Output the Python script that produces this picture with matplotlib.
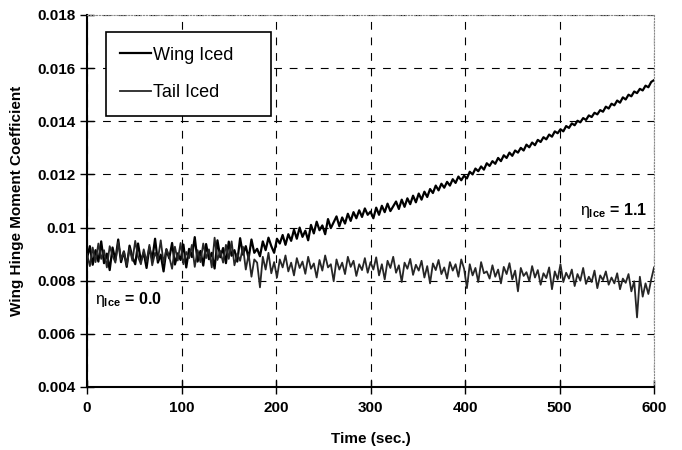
import numpy as np
import matplotlib
matplotlib.use("Agg")
import matplotlib.pyplot as plt

plt.rcParams["font.family"] = ["Liberation Sans", "DejaVu Sans"]
plt.rcParams["mathtext.fontset"] = "custom"
plt.rcParams["mathtext.rm"] = "Liberation Sans"
plt.rcParams["mathtext.it"] = "Liberation Sans"
plt.rcParams["mathtext.bf"] = "Liberation Sans:bold"

# sample time (sec.), one reading every 3 s
time_s = np.arange(0, 601, 3)

# hinge moment coefficient, in units of 1e-5
wing_iced_e5 = [
    885, 930, 860, 915, 872, 948, 866, 902, 840, 925, 878, 955, 870, 910, 852, 932, 889, 862, 940, 875,
    905, 848, 926, 880, 958, 868, 898, 835, 917, 884, 942, 861, 903, 878, 936, 850, 920, 889, 964, 872,
    912, 857, 938, 881, 905, 846, 952, 888, 923, 866, 947, 894, 915, 872, 960, 898, 930, 884, 955, 905,
    920, 892, 948, 915, 962, 930, 905, 958, 940, 972, 935, 975, 950, 992, 958, 1000, 965, 988, 952, 1010,
    978, 1022, 990, 1008, 975, 1032, 998, 1020, 1042, 1005, 1038, 1015, 1052, 1025, 1058, 1035, 1065, 1040, 1072, 1048,
    1060, 1035, 1075, 1048, 1082, 1058, 1090, 1062, 1080, 1098, 1070, 1105, 1078, 1110, 1088, 1120, 1095, 1128, 1105, 1135,
    1115, 1145, 1130, 1158, 1140, 1165, 1150, 1172, 1158, 1182, 1168, 1192, 1178,
    1195, 1185, 1210, 1200, 1222, 1212, 1230, 1218, 1242, 1232, 1250, 1240, 1262, 1250, 1272, 1262, 1282, 1270, 1290, 1282,
    1300, 1290, 1312, 1302, 1320, 1310, 1330, 1322, 1340, 1332, 1350, 1342, 1362, 1355,
    1370, 1362, 1382, 1375, 1392, 1385, 1402, 1396, 1412, 1405, 1422, 1416, 1432, 1426, 1442, 1436, 1455, 1448, 1466, 1460,
    1478, 1470, 1490, 1482, 1500, 1494, 1512, 1506, 1522, 1516, 1534, 1528, 1548, 1555,
]
tail_iced_e5 = [
    900, 855, 925, 870, 940, 882, 915, 850, 930, 895, 868, 945, 880, 910, 858, 922, 875, 950, 890, 862,
    918, 872, 935, 858, 905, 880, 952, 866, 920, 890, 845, 928, 876, 942, 862, 908, 885, 935, 852, 915,
    870, 940, 885, 918, 850, 962, 878, 912, 868, 935, 882, 948, 858, 902, 875, 928, 842, 900, 815, 880,
    868, 775, 890, 842, 905, 828, 870, 812, 880, 850, 895, 835, 868, 820, 885, 848, 872, 826, 890, 845,
    865, 812, 878, 838, 895, 850, 862, 798, 880, 842, 868, 825, 890, 852, 875, 818, 862, 840, 885, 830,
    870, 842, 888, 820, 862, 805, 875, 848, 890, 830, 858, 795, 868, 845, 882, 822, 860, 838, 875, 812,
    855, 790, 865, 840, 878, 825, 850, 808, 870, 838, 862, 815, 880,
    845, 772, 862, 820, 848, 795, 870, 828, 835, 808, 858, 815, 842, 790, 852, 825, 866, 805, 838, 760,
    848, 818, 832, 798, 855, 812, 840, 785, 828, 810, 850, 768, 835, 805,
    862, 795, 830, 808, 842, 780, 825, 800, 848, 788, 815, 795, 838, 772, 820, 802, 835, 785, 812, 790,
    828, 768, 808, 792, 825, 760, 798, 662, 815, 740, 790, 750, 805, 850,
]
wing_iced = np.array(wing_iced_e5) * 1e-5
tail_iced = np.array(tail_iced_e5) * 1e-5

x_ticks = [0, 100, 200, 300, 400, 500, 600]
y_ticks = [0.004, 0.006, 0.008, 0.01, 0.012, 0.014, 0.016, 0.018]
y_labels = ["0.004", "0.006", "0.008", "0.01", "0.012", "0.014", "0.016", "0.018"]

fig = plt.figure(figsize=(6.82, 4.5), dpi=100)
ax = fig.add_axes([0.1276, 0.14, 0.8314, 0.8267])

ax.plot(time_s, wing_iced, color="black", lw=1.6, label="Wing Iced", zorder=3)
ax.plot(time_s, tail_iced, color="#262626", lw=1.3, label="Tail Iced", zorder=4)

ax.set_xlim(0, 600)
ax.set_ylim(0.004, 0.018)
ax.set_xticks(x_ticks)
ax.set_yticks(y_ticks)
ax.set_yticklabels(y_labels)
ax.tick_params(direction="inout", length=10, width=1, labelsize=11)
ax.tick_params(axis="x", pad=5)
ax.tick_params(axis="y", pad=3)
for lbl in ax.get_xticklabels() + ax.get_yticklabels():
    lbl.set_fontweight("bold")

ax.grid(True, color="black", lw=0.8, linestyle=(0, (7, 7)), zorder=1)
for side in ("left", "bottom"):
    ax.spines[side].set_linewidth(1.5)
for side in ("top", "right"):
    ax.spines[side].set_color("#888888")
    ax.spines[side].set_linewidth(0.8)
    ax.spines[side].set_linestyle(":")

ax.set_xlabel("Time (sec.)", fontsize=11, fontweight="bold", labelpad=12)
ax.set_ylabel("Wing Hinge Moment Coefficient", fontsize=11, fontweight="bold", labelpad=10)

leg = ax.legend(loc="upper left", bbox_to_anchor=(0.0335, 0.731, 0.291, 0.223),
                mode="expand", fontsize=13, frameon=True, fancybox=False,
                framealpha=1, edgecolor="black", borderaxespad=0,
                handlelength=1.7, handletextpad=0.1, labelspacing=1.15, borderpad=0.8)
leg.get_frame().set_linewidth(1.2)
leg.set_zorder(5)

ax.text(522, 0.01064, r"$\eta_{\mathbf{Ice}}$ = 1.1", fontsize=11.5, fontweight="bold",
        va="center", ha="left", zorder=6)
ax.text(8.5, 0.00728, r"$\eta_{\mathbf{Ice}}$ = 0.0", fontsize=11.5, fontweight="bold",
        va="center", ha="left", zorder=6)

fig.savefig("out.png", dpi=100)
